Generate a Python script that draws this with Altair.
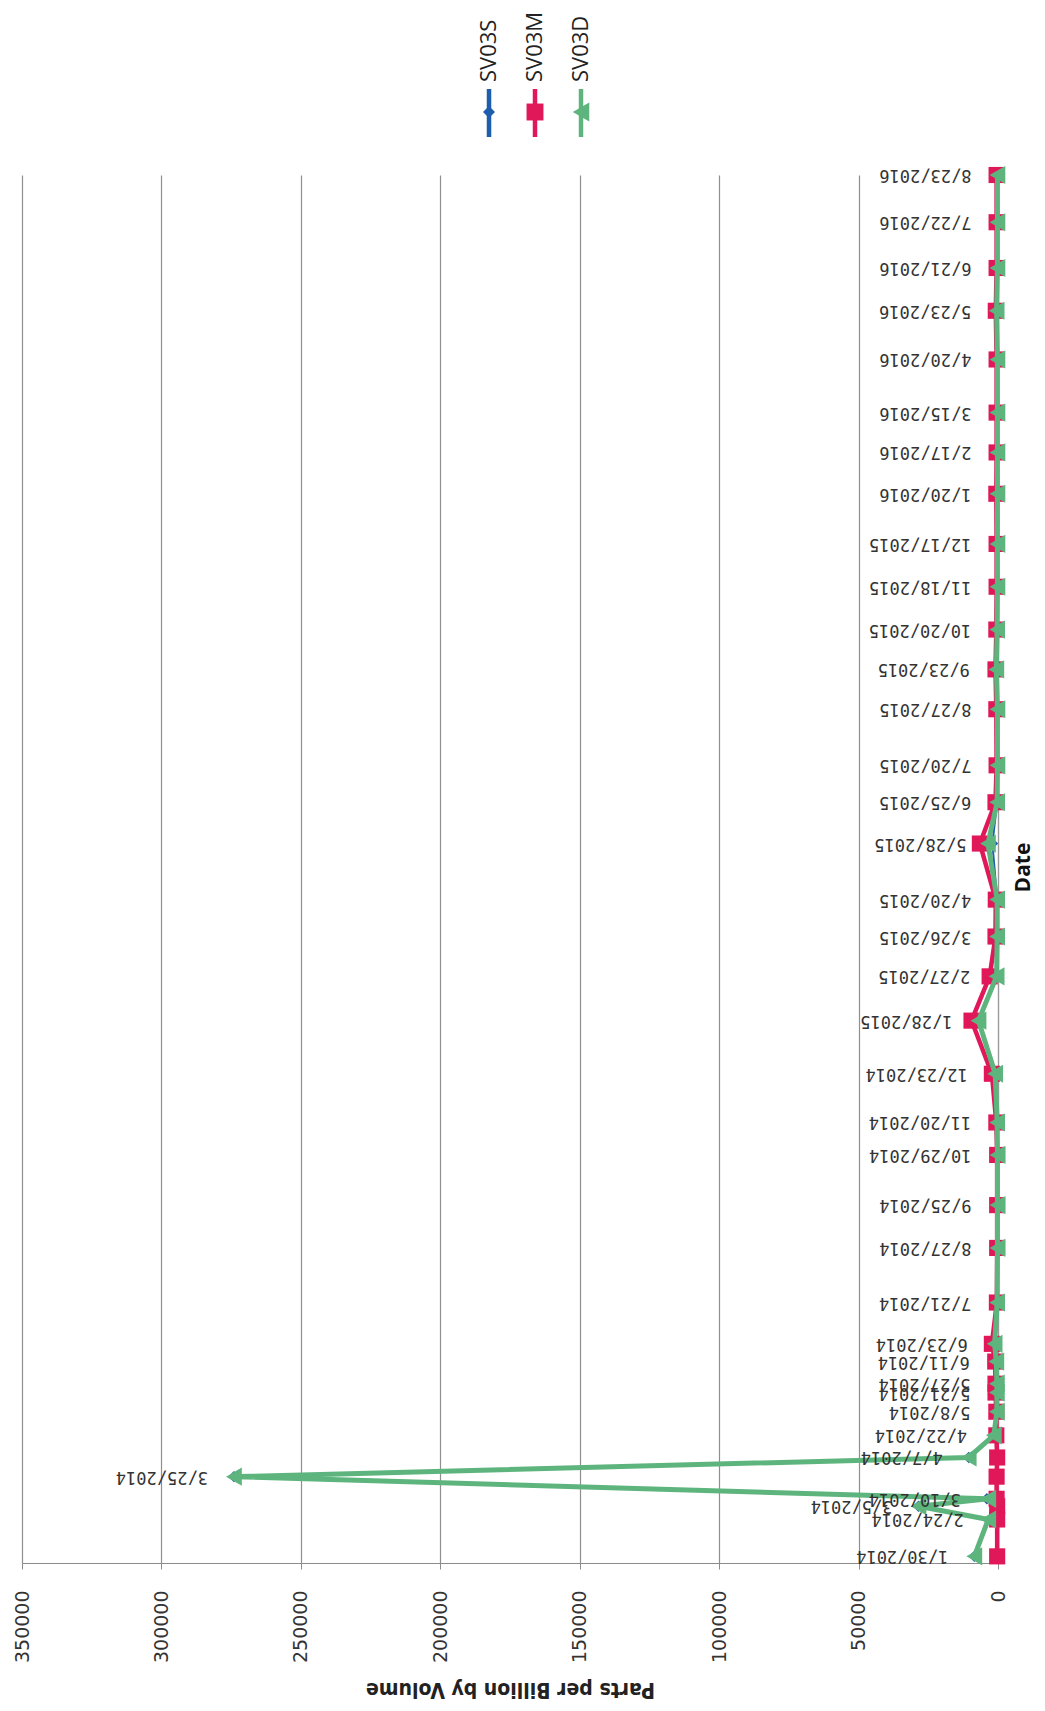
import altair as alt
import pandas as pd

# ---------------- data ----------------
dates = ["1/30/2014", "2/24/2014", "3/5/2014", "3/10/2014", "3/25/2014", "4/7/2014",
         "4/22/2014", "5/8/2014", "5/21/2014", "5/27/2014", "6/11/2014", "6/23/2014",
         "7/21/2014", "8/27/2014", "9/25/2014", "10/29/2014", "11/20/2014", "12/23/2014",
         "1/28/2015", "2/27/2015", "3/26/2015", "4/20/2015", "5/28/2015", "6/25/2015",
         "7/20/2015", "8/27/2015", "9/23/2015", "10/20/2015", "11/18/2015", "12/17/2015",
         "1/20/2016", "2/17/2016", "3/15/2016", "4/20/2016", "5/23/2016", "6/21/2016",
         "7/22/2016", "8/23/2016"]

sv03s = [8500, 3000, 28500, 4000, 274000, 10500, 1800, 500, 500, 500, 800, 1500,
         300, 200, 200, 200, 300, 1500, 7000, 600, 300, 300, 2000, 300,
         200, 200, 800, 300, 200, 200, 200, 200, 200, 200, 300, 200, 200, 200]
sv03m = [300, 300, 300, 500, 500, 300, 600, 600, 900, 900, 1000, 2200,
         400, 300, 300, 300, 600, 2200, 9500, 3000, 900, 800, 6500, 900,
         500, 600, 900, 600, 500, 500, 600, 500, 500, 500, 800, 500, 500, 500]
sv03d = [8500, 3500, 28500, 3500, 274000, 10500, 1500, 400, 400, 400, 600, 1200,
         300, 200, 200, 200, 300, 1000, 7000, 500, 300, 300, 3600, 300,
         200, 200, 600, 300, 200, 200, 200, 200, 200, 200, 500, 200, 200, 200]

series_names = ["SV03S", "SV03M", "SV03D"]
x_ticks = [0, 50000, 100000, 150000, 200000, 250000, 300000, 350000]

# ---------------- styles ----------------
colors = ["#1C5DAD", "#E0185A", "#5DB57D"]
shapes = ["diamond", "square", "triangle-left"]
marker_sizes = [130, 260, 330]
line_widths = [2, 4.5, 5]
legend_px = [467, 513, 559]

df = pd.DataFrame({
    "date": pd.to_datetime(dates, format="%m/%d/%Y"),
    "label": dates,
    "idx": list(range(len(dates))),
    "SV03S": sv03s,
    "SV03M": sv03m,
    "SV03D": sv03d,
})

W, H = 976, 1388

xscale = alt.Scale(domain=[0, 350000], reverse=True, nice=False, zero=True)
yscale = alt.Scale(domain=[alt.DateTime(year=2014, month=1, date=25, hours=12),
                           alt.DateTime(year=2016, month=8, date=23)], nice=False)

xaxis = alt.Axis(
    values=x_ticks, format="d", labelAngle=270, labelAlign="right", labelBaseline="middle",
    labelFont="DejaVu Sans", labelFontSize=19, labelColor="#333333", labelPadding=21,
    labelFlush=False, labelOverlap=False,
    tickSize=6, tickColor="#8c8c8c", domainColor="#8c8c8c", domainWidth=1.2,
    grid=True, gridColor="#8f8f8f", gridWidth=1.2,
    title="Parts per Billion by Volume", titleAngle=180, titleX=W / 2, titleY=125,
    titleAlign="center", titleBaseline="middle",
    titleFont="'Liberation Sans Narrow', 'DejaVu Sans Condensed', 'Arial Narrow', sans-serif",
    titleFontSize=21, titleFontWeight="bold", titleColor="#222222",
)
yaxis = alt.Axis(
    orient="right", labels=False, ticks=False, grid=False,
    domainColor="#9a9a9a", domainWidth=1.2,
    title="Date", titleAngle=270, titleX=25, titleY=H / 2 - 2,
    titleAlign="center", titleBaseline="middle",
    titleFont="Open Sans", titleFontSize=21, titleFontWeight="bold", titleColor="#111111",
)

base = alt.Chart(df)


def X(field):
    return alt.X(f"{field}:Q", scale=xscale, axis=xaxis)


Y = alt.Y("date:T", scale=yscale, axis=yaxis)

layers = []
for name, c, shp, sz, lw in zip(series_names, colors, shapes, marker_sizes, line_widths):
    layers.append(base.mark_line(color=c, strokeWidth=lw).encode(x=X(name), y=Y, order="idx:Q"))
    layers.append(base.mark_point(shape=shp, filled=True, size=sz, color=c, opacity=1)
                  .encode(x=X(name), y=Y))

# date data labels (upside down, as in the rotated scan)
layers.append(base.mark_text(angle=180, align="left", baseline="middle", dx=26,
                             font="DejaVu Sans Mono", fontSize=17, color="#333333")
              .encode(x=X("SV03S"), y=Y, text="label:N"))

# manual legend (rotated)
for name, c, shp, sz, px in zip(series_names, colors, shapes, marker_sizes, legend_px):
    ld = alt.Chart(pd.DataFrame({"name": [name]}))
    layers.append(ld.mark_rule(color=c, strokeWidth=4.5)
                  .encode(x=alt.value(px), y=alt.value(-86), y2=alt.value(-38)))
    layers.append(ld.mark_point(shape=shp, filled=True, size=sz * 1.1, color=c, opacity=1)
                  .encode(x=alt.value(px), y=alt.value(-63)))
    layers.append(ld.mark_text(angle=270, align="left", baseline="middle",
                               font="Open Sans", fontSize=22, color="#222222")
                  .encode(x=alt.value(px), y=alt.value(-93), text="name:N"))

chart = alt.layer(*layers).properties(
    width=W, height=H,
    autosize=alt.AutoSizeParams(type="none"),
    padding={"left": 14, "top": 167, "right": 39, "bottom": 138},
    background="white",
).configure_view(stroke=None)

chart.save("out.html", embed_options={"renderer": "svg", "actions": False})
